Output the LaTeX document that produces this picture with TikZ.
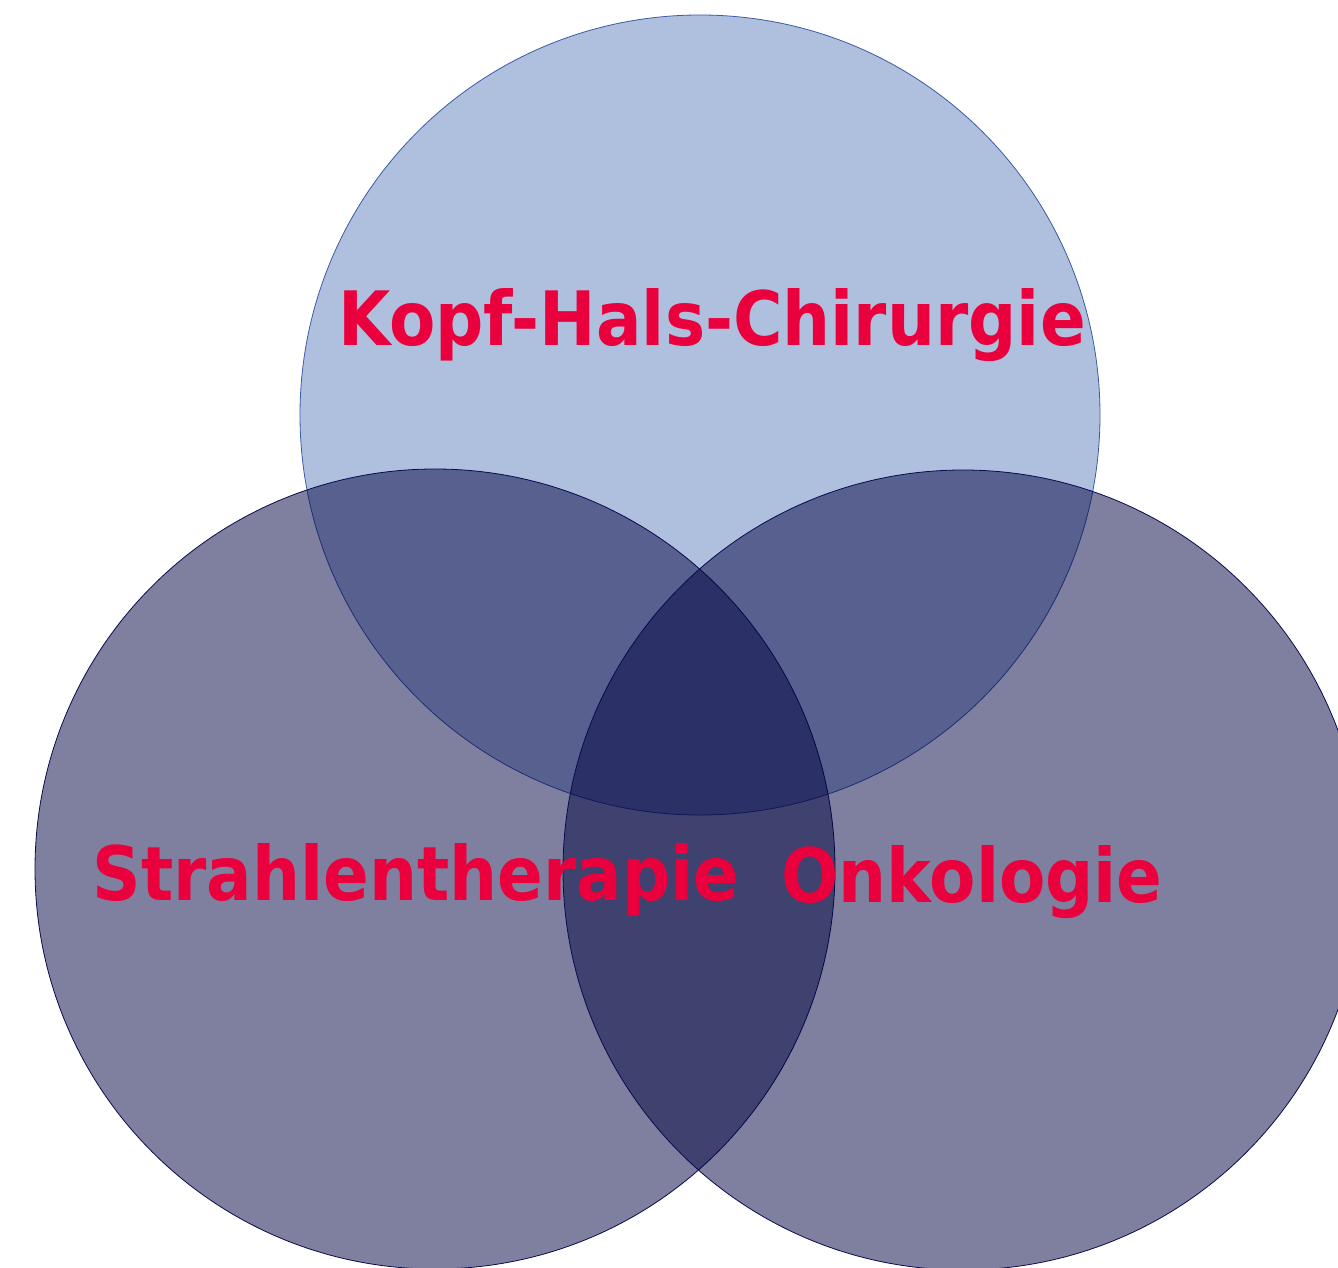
\documentclass[tikz,border=0pt]{standalone}
\usepackage{fontspec}
\setmainfont{DejaVu Sans Condensed}
\usetikzlibrary{positioning}
\definecolor{kopffill}{RGB}{175,192,223}
\definecolor{kopfline}{RGB}{60,90,165}
\definecolor{navyfill}{RGB}{0,2,63}
\definecolor{navyline}{RGB}{10,10,80}
\definecolor{fachrot}{RGB}{234,0,60}
\tikzset{
  kreis/.style={circle,minimum size=800pt,inner sep=0pt},
  fach/.style={font=\fontsize{75}{80}\selectfont\bfseries,text=fachrot,inner sep=0pt,anchor=base}
}
\begin{document}
\begin{tikzpicture}[x=1pt,y=-1pt]
\useasboundingbox (0,0) rectangle (1338,1268);
\clip (0,0) rectangle (1338,1268);
%\draw[very thin,color=gray,step=100] (0,0) grid (1338,1268);
\node[kreis,fill=kopffill,draw=kopfline,line width=0.8pt] (kopf) at (700,415) {};
\node[kreis,fill=navyfill,fill opacity=0.5,draw=navyline,line width=0.8pt] (strahl) at (435,869) {};
\node[kreis,fill=navyfill,fill opacity=0.5,draw=navyline,line width=0.8pt] (onko) at (963,870) {};
\node[fach] (kopftext) at (712,345) {Kopf-Hals-Chirurgie};
\node[fach] (strahltext) at (416,900) {Strahlentherapie};
\node[fach] (onkotext) at (972,902) {Onkologie};
\end{tikzpicture}
\end{document}
